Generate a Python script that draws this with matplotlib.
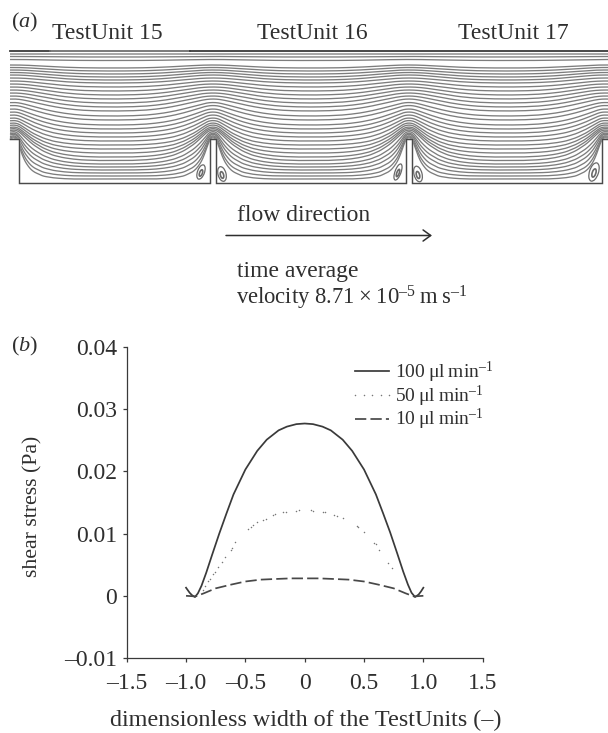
import numpy as np
import matplotlib
matplotlib.use("Agg")
import matplotlib.pyplot as plt
from matplotlib.patches import Ellipse

plt.rcParams['font.family'] = ['Liberation Serif', 'DejaVu Serif']
plt.rcParams['mathtext.fontset'] = 'custom'
plt.rcParams['mathtext.rm'] = 'Liberation Serif'
plt.rcParams['mathtext.it'] = 'Liberation Serif:italic'
plt.rcParams['mathtext.default'] = 'regular'

W, H = 608, 733
INK = '#2f2f2f'
FS = 17

# ---- panel (b) data
x_100 = [-1.0, -0.97, -0.95, -0.925, -0.9, -0.87, -0.83, -0.78, -0.72, -0.66, -0.6, -0.5, -0.4, -0.32, -0.22, -0.15, -0.07, 0,
         0.07, 0.15, 0.22, 0.32, 0.4, 0.5, 0.6, 0.66, 0.72, 0.78, 0.83, 0.87, 0.9, 0.93, 0.96, 0.98, 1.0]
y_100 = [.0013, .0005, .0001, -.0002, .0004, .0016, .0037, .0066, .0100, .0132, .0163, .0203, .0233, .0251, .0266, .0272, .0276, .0277,
         .0276, .0272, .0266, .0251, .0233, .0203, .0163, .0133, .0102, .0068, .0039, .0018, .0005, -.0002, .0002, .0007, .0013]
x_50 = [-.857, -.84, -.815, -.80, -.77, -.755, -.728, -.70, -.672, -.625, -.615, -.587, -.475, -.455, -.433, -.40, -.35, -.33, -.265, -.25,
        -.18, -.16, -.07, -.05, .05, .07, .15, .17, .25, .27, .322, .44, .45, .50, .586, .60, .622, .706, .734]
y_50 = [.0010, .0015, .0023, .0027, .0035, .0039, .0047, .0055, .0063, .0074, .0077, .0086, .0107, .0111, .0114, .0118, .0122, .0124, .0130, .0131,
        .0134, .0135, .0137, .0138, .0138, .0137, .0134, .0134, .0130, .0129, .0125, .0112, .0110, .0102, .0085, .0083, .0074, .0053, .0045]
x_10 = [-1.0, -0.92, -0.85, -0.75, -0.62, -0.5, -0.37, -0.25, -0.12, 0, 0.12, 0.25, 0.37, 0.5, 0.62, 0.75, 0.85, 0.92, 1.0]
y_10 = [.0000, -.0001, .0004, .0012, .0018, .0023, .0026, .0027, .0028, .0028, .0028, .0027, .0026, .0023, .0018, .0012, .0004, -.0001, .0000]
x_ticks = [-1.5, -1.0, -0.5, 0, 0.5, 1.0, 1.5]
x_labels = ['–1.5', '–1.0', '–0.5', '0', '0.5', '1.0', '1.5']
y_ticks = [-0.01, 0, 0.01, 0.02, 0.03, 0.04]
y_labels = ['–0.01', '0', '0.01', '0.02', '0.03', '0.04']
series_names = ['100\u2009μl\u2009min$^{–1}$', '50\u2009μl\u2009min$^{–1}$', '10\u2009μl\u2009min$^{–1}$']

# ---- panel (a) data, in pixels of the picture
unit_names = ['TestUnit 15', 'TestUnit 16', 'TestUnit 17']
unit_label_x = [107.5, 312.5, 513.5]
post_centres = [13.5, 213, 409, 605]
well_left = [18.5, 216, 412]
well_right = [210, 406, 602]
line_mid = [54, 57, 60.5, 68, 71, 74, 77, 80, 83, 87, 91, 95, 99, 103, 107, 111, 116, 120, 125, 129,
            133, 137, 141, 145, 149, 153, 157, 160.5, 164, 167, 170, 173, 176, 179]
line_post = [54, 56.5, 59.5, 65, 67.5, 70, 72.5, 75, 78, 81, 84, 87, 90, 93, 96, 99, 102.5, 105.5, 109, 112,
             115, 118, 120.5, 123, 125, 127, 128.5, 130, 131.5, 133, 134, 135.5, 136.5, 137.5]
t_grid = [0, .03, .06, .10, .15, .20, .30, .40, .50, .60, .70, .85, 1]
drop_shallow = [0, .005, .02, .05, .11, .19, .37, .55, .71, .83, .92, .98, 1]
drop_deep = [0, .01, .06, .18, .33, .47, .68, .82, .90, .95, .98, 1, 1]
drop_wall = [0, .02, .22, .50, .70, .82, .93, .97, .99, 1, 1, 1, 1]
vortex_x = [201, 222, 398, 418, 594]
vortex_y = [172, 174, 172, 174, 172]
vortex_w = [7, 8, 6, 8, 9]
vortex_h = [15, 15, 17, 16, 19]
vortex_tilt = [20, -15, 20, -15, 18]

fig = plt.figure(figsize=(W / 100, H / 100), dpi=100)

# ---- panel (a): whole-figure axes in pixel units
ax0 = fig.add_axes([0, 0, 1, 1])
ax0.set_xlim(0, W)
ax0.set_ylim(H, 0)
ax0.axis('off')

xs = np.linspace(10, 608, 1400)
dist = np.min([np.abs(xs - c) for c in post_centres], axis=0)
t = np.clip(dist / 98.0, 0, 1)
kernel = np.ones(13) / 13
def smooth(v):
    return np.convolve(np.pad(v, 6, mode='edge'), kernel, mode='valid')
s_sh = smooth(np.interp(t, t_grid, drop_shallow))
s_dp = smooth(np.interp(t, t_grid, drop_deep))
s_wl = smooth(np.interp(t, t_grid, drop_wall))
for ym, yp in zip(line_mid, line_post):
    w1 = np.clip((ym - 100) / 45, 0, 1)
    w2 = np.clip((ym - 160) / 18, 0, 1)
    s = (1 - w1) * s_sh + w1 * ((1 - w2) * s_dp + w2 * s_wl)
    ax0.plot(xs, yp + (ym - yp) * s, color='#7d7d7d', lw=0.95, solid_capstyle='butt', zorder=2)

# white clearing inside the posts
for l, r in zip(well_right, well_left[1:] + [608]):
    ax0.fill_between([l, r], 139, 186, color='white', zorder=3)
ax0.fill_between([10, 18.5], 139, 186, color='white', zorder=3)

# walls
wx, wy = [10, 18.5], [139, 139]
for l, r in zip(well_left, well_right):
    wx += [l, r, r] if l == 18.5 else [l, l, r, r]
    wy += [183, 183, 139] if l == 18.5 else [139, 183, 183, 139]
wx += [608]
wy += [139]
ax0.plot(wx, wy, color='#4a4a4a', lw=1.05, zorder=4, solid_joinstyle='miter')
ax0.plot([10, 50], [51, 51], color='#3a3a3a', lw=1.3, zorder=4)
ax0.plot([50, 190], [51, 51], color='#707070', lw=1.3, zorder=4)
ax0.plot([190, 608], [51, 51], color='#3a3a3a', lw=1.3, zorder=4)

for vx, vy, vw, vh, va in zip(vortex_x, vortex_y, vortex_w, vortex_h, vortex_tilt):
    ax0.add_patch(Ellipse((vx, vy), vw, vh, angle=va, facecolor='white', ec='#6a6a6a', lw=0.9, zorder=5))
    ax0.add_patch(Ellipse((vx, vy + 1), vw * .4, vh * .45, angle=va, fill=False, ec='#6a6a6a', lw=1.2, zorder=5))

for name, ux in zip(unit_names, unit_label_x):
    ax0.text(ux, 39, name, ha='center', va='baseline', fontsize=FS, color=INK)
ax0.text(11, 27, '($\\mathit{a}$)', ha='left', va='baseline', fontsize=16, color=INK)
ax0.text(11, 351, '($\\mathit{b}$)', ha='left', va='baseline', fontsize=16, color=INK)
ax0.text(237, 221, 'flow direction', ha='left', va='baseline', fontsize=FS, color=INK)
ax0.annotate('', xy=(432, 235.5), xytext=(226, 235.5),
             arrowprops=dict(arrowstyle='->,head_length=0.55,head_width=0.4', color=INK, lw=1.1,
                             shrinkA=0, shrinkB=0))
ax0.text(237, 277, 'time average', ha='left', va='baseline', fontsize=FS, color=INK)
ax0.text(236, 305, 'velocity 8.71\u2009×\u200910$^{–5}$\u2009m\u2009s$^{–1}$', ha='left', va='baseline',
         fontsize=16.3, color=INK)

# ---- panel (b)
L, R, T, B = 126.7, 482.7, 347, 658
ax = fig.add_axes([L / W, 1 - B / H, (R - L) / W, (B - T) / H])
ax.patch.set_alpha(0)
ax.set_xlim(-1.5, 1.5)
ax.set_ylim(-0.01, 0.04)
ax.plot(x_100, y_100, color='#3a3a3a', lw=1.25, label=series_names[0])
ax.plot(x_50, y_50, ls='none', marker='.', ms=2.2, mew=0, color='#777777', label=series_names[1])
ax.plot(x_10, y_10, color='#484848', lw=1.25, dashes=(6.5, 2.4), label=series_names[2])
for s in ('top', 'right'):
    ax.spines[s].set_visible(False)
for s in ('left', 'bottom'):
    ax.spines[s].set_color('#3a3a3a')
    ax.spines[s].set_linewidth(0.9)
ax.set_xticks(x_ticks, x_labels)
ax.set_yticks(y_ticks, y_labels)
ax.tick_params(length=3, width=0.9, color='#3a3a3a', labelsize=FS, labelcolor=INK, pad=4)
ax.tick_params(axis='x', pad=7.5)
ax.set_xlabel('dimensionless width of the TestUnits (–)', fontsize=17.4, color=INK)
ax.set_ylabel('shear stress (Pa)', fontsize=15.7, color=INK)
ax.xaxis.set_label_coords(0.502, -0.168)
ax.yaxis.set_label_coords(-0.2375, 0.486)
ax.legend(loc='upper left', bbox_to_anchor=(0.625, 0.959), frameon=False, fontsize=14, labelcolor=INK,
          handlelength=2.35, handletextpad=0.0, labelspacing=-0.08, borderpad=0, borderaxespad=0, numpoints=5)

fig.savefig('out.png', dpi=100)
